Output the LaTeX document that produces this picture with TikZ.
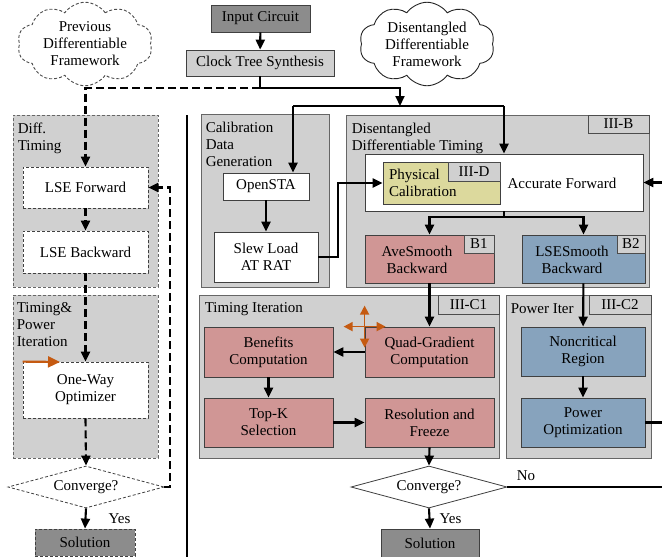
\documentclass[tikz,border=0pt]{standalone}
\usepackage{fontspec}
\setmainfont{Liberation Serif}
\usepackage{xcolor}
\definecolor{panelGray}{HTML}{D0D0D0}
\definecolor{darkGray}{HTML}{8C8C8C}
\definecolor{aveRed}{HTML}{D09695}
\definecolor{lseBlue}{HTML}{87A3BD}
\definecolor{calibYellow}{HTML}{DCD99D}
\definecolor{moveOrange}{HTML}{C55A11}
\usepackage{tikz}
\usetikzlibrary{positioning,arrows.meta,shapes.geometric,shapes.symbols,calc}

\begin{document}
\begin{tikzpicture}[x=1pt, y=-1pt,
    every node/.style={font=\fontsize{15}{17}\selectfont, align=center},
    box/.style={draw=black!75, line width=0.8pt, inner sep=0pt},
    dbox/.style={box, dash pattern=on 3pt off 2pt},
    grp/.style={draw=black!60, line width=0.9pt, fill=panelGray, inner sep=0pt},
    tag/.style={draw=black!70, line width=0.9pt, fill=panelGray, inner sep=0pt, anchor=north east},
    lbl/.style={align=left, inner sep=0pt},
    fw/.style={cloud, cloud puffs=10, cloud puff arc=110, aspect=1.75, inner sep=0pt, line width=0.9pt, minimum width=135pt, minimum height=77pt},
    arr/.style={line width=2.1pt, -{Triangle[length=10pt,width=9pt]}},
    darr/.style={arr, dash pattern=on 8pt off 4pt},
    ln/.style={line width=2.1pt},
    mv/.style={draw=moveOrange, line width=2.2pt, -{Triangle[length=12pt,width=11pt]}}]
  \useasboundingbox (0,0) rectangle (662,557);

  % Top
  \node[box, fill=darkGray, minimum width=99pt, minimum height=27pt] (input) at (260.5,18.5) {Input Circuit};
  \node[box, fill=panelGray, minimum width=148pt, minimum height=26pt] (cts) at (260,63) {Clock Tree Synthesis};
  \node[fw, draw=black!70, dash pattern=on 3pt off 2pt] (prevFw) at (85,44) {Previous\\Differentiable\\Framework};
  \node[fw, draw=black!85] (disFw) at (427,44) {Disentangled\\Differentiable\\Framework};

  % Previous framework
  \node[grp, dash pattern=on 3pt off 2pt, minimum width=145pt, minimum height=172pt] (diffT) at (85.5,201) {};
  \node[lbl, below right=8pt and 5pt of diffT.north west] (diffTLbl) {Diff.\\Timing};
  \node[grp, dash pattern=on 3pt off 2pt, minimum width=145pt, minimum height=163pt] (tpIter) at (85.5,376.5) {};
  \node[lbl, below right=8pt and 4pt of tpIter.north west] (tpIterLbl) {Timing\&\\Power\\Iteration};
  \node[dbox, fill=white, minimum width=125pt, minimum height=41pt] (lseFwd) at (85.5,187.5) {LSE Forward};
  \node[dbox, fill=white, minimum width=125pt, minimum height=42pt] (lseBwd) at (85.5,252) {LSE Backward};
  \node[dbox, fill=white, minimum width=125pt, minimum height=56pt] (oneWay) at (85.5,390) {One-Way\\Optimizer};
  \node[dbox, diamond, shape aspect=3.7, fill=white, minimum width=156pt, minimum height=42pt] (convL) at (86,487) {Converge?};
  \node[dbox, fill=darkGray, minimum width=100pt, minimum height=27pt] (solL) at (85,542.5) {Solution};

  \draw[line width=2.1pt] (187,115) -- (187,557);

  % Disentangled framework
  \node[grp, minimum width=128pt, minimum height=173pt] (calib) at (265,200.5) {};
  \node[lbl, below right=8pt and 5pt of calib.north west] (calibLbl) {Calibration\\Data\\Generation};
  \node[grp, minimum width=303pt, minimum height=172pt] (dTime) at (497.5,201) {};
  \node[lbl, below right=8pt and 6pt of dTime.north west] (dTimeLbl) {Disentangled\\Differentiable Timing};
  \node[tag, minimum width=61pt, minimum height=18pt] (tagB) at (dTime.north east) {III-B};
  \node[grp, minimum width=300pt, minimum height=163pt] (timIter) at (349,376.5) {};
  \node[lbl, below right=8pt and 6pt of timIter.north west] (timIterLbl) {Timing Iteration};
  \node[tag, minimum width=61pt, minimum height=19pt] (tagC1) at (timIter.north east) {III-C1};
  \node[grp, minimum width=145pt, minimum height=163pt] (powIter) at (578.5,376.5) {};
  \node[lbl, below right=9pt and 5pt of powIter.north west] (powIterLbl) {Power Iter};
  \node[tag, minimum width=62pt, minimum height=19pt] (tagC2) at (powIter.north east) {III-C2};

  \node[box, fill=white, minimum width=86pt, minimum height=27pt] (openSta) at (266,186.5) {OpenSTA};
  \node[box, fill=white, minimum width=104pt, minimum height=50pt] (slew) at (266,257) {Slew Load\\AT RAT};
  \node[box, fill=white, minimum width=278pt, minimum height=57pt] (accFwd) at (504,182.5) {};
  \node[inner sep=0pt] (accFwdTxt) at (562,183) {Accurate Forward};
  \node[box, fill=calibYellow, minimum height=42pt, text width=105pt, inner xsep=6pt, align=left] (phys) at (441.5,183) {Physical\\Calibration};
  \node[tag, minimum width=52pt, minimum height=19pt] (tagD) at (phys.north east) {III-D};
  \node[box, fill=aveRed, minimum width=129pt, minimum height=48pt] (aveSm) at (429.5,259) {};
  \node[inner sep=0pt] (aveSmTxt) at (417,260) {AveSmooth\\Backward};
  \node[tag, minimum width=30pt, minimum height=18pt] (tagB1) at (aveSm.north east) {B1};
  \node[box, fill=lseBlue, minimum width=123pt, minimum height=48pt] (lseSm) at (583.5,259) {};
  \node[inner sep=0pt] (lseSmTxt) at (572,260) {LSESmooth\\Backward};
  \node[tag, minimum width=28pt, minimum height=18pt] (tagB2) at (lseSm.north east) {B2};

  \node[box, fill=aveRed, minimum width=129pt, minimum height=50pt] (benefit) at (268.5,352) {Benefits\\Computation};
  \node[box, fill=aveRed, minimum width=129pt, minimum height=50pt] (quad) at (429.5,352) {Quad-Gradient\\Computation};
  \node[box, fill=aveRed, minimum width=129pt, minimum height=49pt] (topK) at (268.5,422.5) {Top-K\\Selection};
  \node[box, fill=aveRed, minimum width=129pt, minimum height=49pt] (resol) at (429.5,422.5) {Resolution and\\Freeze};
  \node[box, fill=lseBlue, minimum width=124pt, minimum height=49pt] (nonCrit) at (583,351.5) {Noncritical\\Region};
  \node[box, fill=lseBlue, minimum width=124pt, minimum height=49pt] (powOpt) at (583,422.5) {Power\\Optimization};
  \node[box, diamond, shape aspect=3.7, fill=white, minimum width=156pt, minimum height=42pt] (convR) at (429,487) {Converge?};
  \node[box, fill=darkGray, minimum width=98pt, minimum height=28pt] (solR) at (430,543) {Solution};

  % Connectors
  \coordinate (split) at (260,88);
  \coordinate (busTop) at (400,106);
  \coordinate (busL) at (293,106);
  \coordinate (busR) at (504,106);
  \draw[arr] (input) -- (cts);
  \draw[ln] (cts.south) -- (split);
  \draw[darr] (split) -| (lseFwd.north);
  \draw[arr] (split) -| (busTop);
  \draw[ln] (busL) -- (busR);
  \draw[arr] (busL) -- (busL |- openSta.north);
  \draw[arr] (busR) -- (accFwd.north);

  \draw[darr] (lseFwd) -- (lseBwd);
  \draw[darr] (lseBwd) -- (oneWay);
  \draw[darr] (oneWay.south) -- (convL.north);
  \coordinate (loopL) at (170,187.5);
  \draw[darr] (convL.east) -| (loopL) -- (lseFwd.east);
  \draw[arr] (convL.south) -- node[right=22pt, inner sep=0pt] {Yes} (solL.north);
  \coordinate (mvTip) at (60,362);
  \draw[mv] (oneWay.north west) -- (mvTip);

  \draw[arr] (openSta) -- (slew);
  \coordinate (calBend) at (338,183);
  \draw[arr] (slew.east) -| (calBend) -- (phys.west);
  \coordinate (fwdIn) at (662,182.5);
  \draw[arr] (fwdIn) -- (accFwd.east);
  \coordinate (fork) at (504,217);
  \draw[ln] (accFwd.south) -- (fork);
  \draw[arr] (fork) -| (aveSm.north);
  \draw[arr] (fork) -| (lseSm.north);
  \draw[arr] (aveSm) -- (quad);
  \draw[arr] (lseSm) -- (nonCrit);
  \draw[arr] (quad) -- (benefit);
  \draw[arr] (benefit) -- (topK);
  \draw[arr] (topK) -- (resol);
  \draw[arr] (nonCrit) -- (powOpt);
  \coordinate (powOut) at (662,422.5);
  \draw[ln] (powOpt) -- (powOut);
  \draw[arr] (resol.south) -- (convR.north);
  \coordinate (noOut) at (662,487);
  \draw[ln] (convR.east) -- node[pos=0.12, above=5pt, inner sep=0pt] {No} (noOut);
  \draw[arr] (convR.south) -- node[right=9pt, inner sep=0pt] {Yes} (solR.north);
  \foreach \a in {0,90,180,270}
    \draw[mv, line width=1.6pt, -{Triangle[length=9pt,width=9pt]}] (quad.north west) -- ++(\a:21);
\end{tikzpicture}
\end{document}
